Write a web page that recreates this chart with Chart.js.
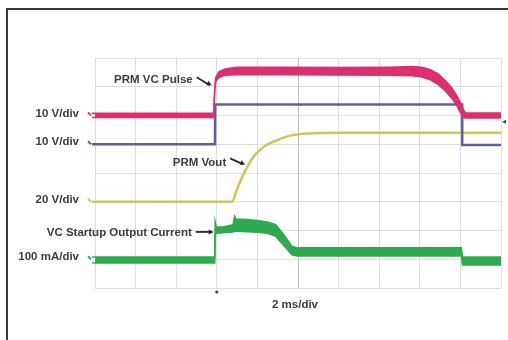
<!DOCTYPE html>
<html>
<head>
<meta charset="utf-8">
<script src="https://cdn.jsdelivr.net/npm/chart.js@4/dist/chart.umd.min.js"></script>
<style>
  html, body { margin: 0; padding: 0; background: #fff; overflow: hidden; }
  canvas { display: block; }
</style>
</head>
<body>
<canvas id="scope" width="508" height="340"></canvas>
<script>
// Time base: 2 ms/div over 10 divisions; vertical values are in screen divisions (0..8).
const timeRangeMs = [0, 20];
const divRange = [0, 8];
const timeStepMs = 2;

// CH1 - PRM VC Pulse (10 V/div): upper and lower edge of the noisy trace
const pulseTime  = [-0.15, 5.85, 5.9, 5.95, 6.1, 6.4, 7.0, 9.0, 12.0, 14.5, 15.6, 16.1, 16.5, 16.9, 17.25, 17.55, 17.8, 18.0, 18.15, 18.25, 18.4, 20.0];
const pulseUpper = [6.08, 6.08, 7.0, 7.32, 7.52, 7.62, 7.68, 7.68, 7.67, 7.68, 7.7, 7.68, 7.6, 7.45, 7.22, 6.98, 6.72, 6.45, 6.2, 6.1, 6.09, 6.09];
const pulseLower = [5.93, 5.93, 6.9, 7.18, 7.32, 7.4, 7.42, 7.42, 7.41, 7.4, 7.38, 7.34, 7.25, 7.08, 6.86, 6.62, 6.38, 6.1, 5.93, 5.91, 5.91, 5.91];

// CH2 - 10 V/div
const ch2Time = [-0.15, 5.91, 5.92, 18.08, 18.09, 20.0];
const ch2Level = [5.0, 5.0, 6.38, 6.38, 4.97, 4.97];

// CH3 - PRM Vout (20 V/div)
const voutTime  = [-0.15, 6.75, 6.95, 7.14, 7.39, 7.64, 7.88, 8.13, 8.37, 8.62, 9.11, 9.61, 10.1, 11.1, 12.5, 20.0];
const voutLevel = [3.0, 3.0, 3.34, 3.69, 4.07, 4.38, 4.63, 4.8, 4.94, 5.04, 5.18, 5.3, 5.36, 5.39, 5.4, 5.4];

// CH4 - VC Startup Output Current (100 mA/div): upper and lower edge of the band
const currentTime  = [-0.15, 5.9, 5.92, 5.97, 6.3, 6.8, 6.88, 6.95, 7.5, 8.0, 8.5, 8.9, 9.3, 9.7, 9.95, 13.0, 18.05, 18.1, 20.0];
const currentUpper = [1.08, 1.08, 2.3, 2.12, 2.12, 2.2, 2.5, 2.4, 2.38, 2.35, 2.3, 2.2, 1.85, 1.45, 1.4, 1.4, 1.4, 1.08, 1.08];
const currentLower = [0.87, 0.87, 1.85, 1.9, 1.92, 1.95, 1.97, 1.97, 1.96, 1.94, 1.9, 1.8, 1.48, 1.15, 1.11, 1.11, 1.11, 0.8, 0.8];

// Channel scale labels and their ground-reference levels (divisions)
const channelLabels = ['10 V/div', '10 V/div', '20 V/div', '100 mA/div'];
const channelLevels = [6.0, 5.0, 3.0, 1.0];
const channelColors = ['#dc2f6f', '#5a5fa8', '#d2c35a', '#2faa4f'];

// Callouts: text, arrow tip (ms, div)
const calloutTexts = ['PRM VC Pulse', 'PRM Vout', 'VC Startup Output Current'];
const calloutTipMs = [5.75, 7.4, 5.85];
const calloutTipDiv = [7.05, 4.3, 1.95];

const timeBase = '2 ms/div';
const triggerMs = 6.0;
const triggerLevelDiv = 5.78;

const pts = (xs, ys) => xs.map((x, i) => ({ x, y: ys[i] }));

const scopeDecor = {
  id: 'scopeDecor',
  beforeDraw(chart) {
    const ctx = chart.ctx;
    ctx.save();
    ctx.fillStyle = '#ffffff';
    ctx.fillRect(0, 0, chart.width, chart.height);
    ctx.restore();
  },
  afterDraw(chart) {
    const { ctx } = chart;
    const x = chart.scales.x, y = chart.scales.y;
    ctx.save();

    // panel frame
    ctx.strokeStyle = '#3a3a3a';
    ctx.lineWidth = 2;
    ctx.beginPath();
    ctx.moveTo(7, chart.height + 2);
    ctx.lineTo(7, 9);
    ctx.lineTo(chart.width + 2, 9);
    ctx.stroke();

    ctx.font = 'bold 11.5px "Liberation Sans", Arial, sans-serif';
    ctx.fillStyle = '#3c3c3c';
    ctx.textBaseline = 'middle';

    // channel scale labels with start hooks
    channelLabels.forEach((txt, i) => {
      const py = y.getPixelForValue(channelLevels[i]);
      ctx.textAlign = 'right';
      ctx.fillStyle = '#3c3c3c';
      ctx.fillText(txt, x.left - 16, py - 2);
      ctx.strokeStyle = channelColors[i];
      ctx.lineWidth = 2;
      ctx.beginPath();
      ctx.moveTo(x.left - 7, py - 3);
      ctx.lineTo(x.left - 4, py);
      ctx.stroke();
    });

    // callouts with arrows
    const arrowVec = [[-15, -8], [-15, -6], [-18, 0]];
    const textDy = [3, 4, 1];
    calloutTexts.forEach((txt, i) => {
      const tx = x.getPixelForValue(calloutTipMs[i]);
      const ty = y.getPixelForValue(calloutTipDiv[i]);
      const sx = tx + arrowVec[i][0], sy = ty + arrowVec[i][1];
      ctx.strokeStyle = '#2a2a2a';
      ctx.lineWidth = 1.8;
      ctx.beginPath();
      ctx.moveTo(sx, sy);
      ctx.lineTo(tx - 2, ty);
      ctx.stroke();
      const ang = Math.atan2(ty - sy, tx - sx);
      ctx.fillStyle = '#2a2a2a';
      ctx.beginPath();
      ctx.moveTo(tx, ty);
      ctx.lineTo(tx - 5 * Math.cos(ang) + 2.5 * Math.sin(ang), ty - 5 * Math.sin(ang) - 2.5 * Math.cos(ang));
      ctx.lineTo(tx - 5 * Math.cos(ang) - 2.5 * Math.sin(ang), ty - 5 * Math.sin(ang) + 2.5 * Math.cos(ang));
      ctx.closePath();
      ctx.fill();
      ctx.fillStyle = '#3c3c3c';
      ctx.textAlign = 'right';
      ctx.fillText(txt, sx - 4, sy + textDy[i]);
    });

    // trigger position and level markers
    ctx.fillStyle = '#444';
    ctx.beginPath();
    ctx.arc(x.getPixelForValue(triggerMs), y.bottom + 4, 1.6, 0, Math.PI * 2);
    ctx.fill();
    const ly = y.getPixelForValue(triggerLevelDiv);
    ctx.beginPath();
    ctx.moveTo(x.right + 1, ly);
    ctx.lineTo(x.right + 5, ly - 2);
    ctx.lineTo(x.right + 5, ly + 2);
    ctx.closePath();
    ctx.fill();

    // time base
    ctx.fillStyle = '#3c3c3c';
    ctx.textAlign = 'center';
    ctx.fillText(timeBase, x.getPixelForValue(10) - 3, y.bottom + 17);

    ctx.restore();
  }
};

const bandSet = (data, color, fill) => ({
  data, borderColor: color, backgroundColor: color, borderWidth: 1.5,
  pointRadius: 0, tension: 0, fill, clip: false
});

new Chart(document.getElementById('scope'), {
  type: 'line',
  data: {
    datasets: [
      bandSet(pts(pulseTime, pulseUpper), channelColors[0], false),
      bandSet(pts(pulseTime, pulseLower), channelColors[0], '-1'),
      { data: pts(ch2Time, ch2Level), borderColor: channelColors[1], borderWidth: 2.5,
        pointRadius: 0, tension: 0, fill: false, clip: false },
      { data: pts(voutTime, voutLevel), borderColor: channelColors[2], borderWidth: 2.5,
        pointRadius: 0, cubicInterpolationMode: 'monotone', fill: false, clip: false },
      bandSet(pts(currentTime, currentUpper), channelColors[3], false),
      bandSet(pts(currentTime, currentLower), channelColors[3], '-1')
    ]
  },
  options: {
    responsive: false,
    devicePixelRatio: 1,
    animation: false,
    events: [],
    layout: { padding: { left: 95, right: 7, top: 58, bottom: 52 } },
    plugins: { legend: { display: false }, tooltip: { enabled: false } },
    scales: {
      x: {
        type: 'linear', min: timeRangeMs[0], max: timeRangeMs[1],
        ticks: { display: false, stepSize: timeStepMs },
        border: { display: false },
        grid: {
          drawTicks: false, tickLength: 0, lineWidth: 1,
          color: c => c.tick && c.tick.value === 10 ? 'rgba(170,160,160,0.7)' : 'rgba(212,202,202,0.65)'
        }
      },
      y: {
        type: 'linear', min: divRange[0], max: divRange[1],
        ticks: { display: false, stepSize: 1 },
        border: { display: false },
        grid: { drawTicks: false, tickLength: 0, lineWidth: 1, color: 'rgba(212,202,202,0.65)' }
      }
    }
  },
  plugins: [scopeDecor]
});
</script>
</body>
</html>
